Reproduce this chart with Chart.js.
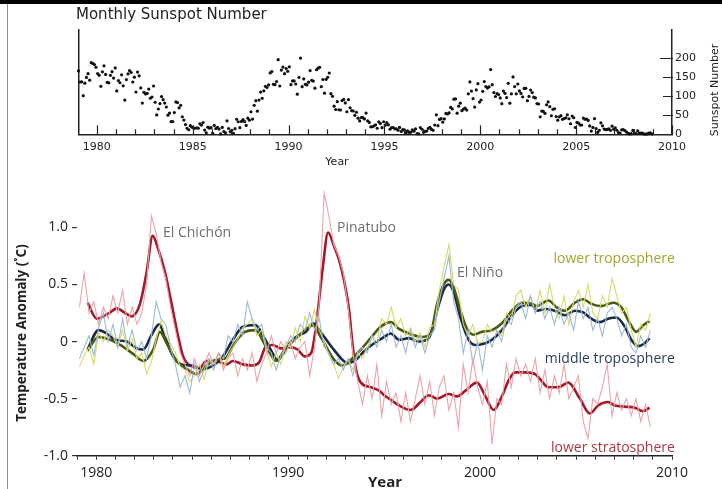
<!DOCTYPE html>
<html>
<head>
<meta charset="utf-8">
<script src="https://cdn.jsdelivr.net/npm/chart.js@4/dist/chart.umd.min.js"></script>
<style>
  body { margin: 0; background: #fff; width: 722px; height: 489px; position: relative; overflow: hidden; }
  #topbar { position: absolute; left: 0; top: 0; width: 722px; height: 4px; background: #000; }
  #leftline { position: absolute; left: 7px; top: 4px; width: 1px; height: 485px; background: #8c8c8c; }
  #spots { position: absolute; left: 0; top: 0; }
  #temps { position: absolute; left: 0; top: 175px; }
</style>
</head>
<body>
<canvas id="spots" width="722" height="175"></canvas>
<canvas id="temps" width="722" height="314"></canvas>
<div id="topbar"></div>
<div id="leftline"></div>
<script>
// monthly sunspot number, Jan 1979 .. Dec 2008
var spotStart = 1979
var sunspots = [
  166.6,137.5,138.0,101.5,134.4,149.5,159.4,142.2,188.4,186.2,183.3,176.3,
  159.6,155.0,126.2,164.1,179.9,157.3,136.3,135.4,155.0,164.7,147.9,174.4,
  114.0,141.3,135.5,156.4,127.5,90.0,143.8,158.7,167.3,162.4,137.5,150.1,
  111.2,163.6,153.8,122.0,82.2,110.4,106.1,107.6,118.8,94.7,98.1,127.0,
  84.3,51.0,66.5,80.7,99.2,91.1,82.2,71.8,50.3,55.8,33.3,33.4,
  57.0,85.1,83.5,69.7,76.4,46.1,37.4,25.5,15.7,12.0,22.8,18.7,
  16.5,15.9,17.2,16.2,27.5,24.2,30.7,11.1,3.9,18.6,16.2,17.3,
  2.5,23.2,15.1,18.5,13.7,1.1,18.1,7.4,3.8,35.4,15.2,6.8,
  10.4,2.4,14.7,39.6,33.0,17.4,33.9,38.8,33.3,23.4,42.5,37.1,
  59.0,40.1,76.2,88.3,60.8,89.9,111.1,94.8,114.3,126.0,123.0,129.8,
  161.3,165.0,131.4,130.5,138.5,196.2,126.9,168.9,176.7,159.4,173.0,165.5,
  177.3,130.5,140.3,140.3,132.2,105.4,149.4,200.3,125.2,145.5,131.4,129.7,
  136.9,167.5,141.9,140.0,121.3,169.7,173.7,176.3,125.3,144.1,108.2,144.4,
  150.0,161.1,106.7,99.8,73.8,65.2,85.7,64.5,63.9,88.7,91.8,82.6,
  59.3,91.0,69.8,62.2,61.3,49.8,57.9,42.4,35.2,44.1,43.6,40.5,
  55.7,35.5,31.1,19.7,19.8,22.2,24.8,15.9,32.6,28.1,17.5,33.0,
  24.1,30.5,24.9,13.5,17.3,17.9,14.4,14.6,10.8,18.2,7.3,12.5,
  11.5,4.4,9.2,4.8,5.5,11.8,8.2,14.4,1.6,0.9,17.9,13.3,
  5.7,7.6,8.7,15.5,18.5,12.7,10.4,24.4,51.3,22.8,39.0,41.2,
  31.9,40.3,54.8,53.4,56.3,70.7,66.6,92.2,92.9,55.5,74.0,81.9,
  62.0,66.3,68.8,63.7,106.4,137.7,113.5,93.7,71.5,116.7,133.2,84.6,
  90.1,112.9,138.5,125.5,121.6,124.9,170.1,130.5,109.7,99.4,106.8,104.4,
  95.6,80.6,113.5,107.7,96.6,134.0,81.8,106.4,150.7,125.5,106.5,132.2,
  114.1,107.4,98.4,120.7,120.8,88.3,99.6,116.4,109.6,97.5,95.5,80.8,
  79.7,46.0,61.1,60.0,55.2,77.4,85.0,72.7,48.8,65.6,67.2,46.7,
  37.2,46.0,48.9,39.3,41.5,43.2,51.1,40.9,27.7,48.0,43.5,17.9,
  31.3,29.2,24.5,24.4,42.6,39.6,39.9,36.4,22.1,8.5,18.0,41.2,
  15.3,4.9,10.6,30.2,22.3,13.9,12.2,12.9,14.4,10.5,21.4,13.6,
  16.8,10.7,4.5,3.4,11.7,12.1,9.7,6.0,2.4,0.9,1.7,10.1,
  3.4,2.1,9.3,2.9,3.2,3.4,0.5,0.5,1.1,2.9,4.1,0.8
]
var spotYearLabels = [1980, 1985, 1990, 1995, 2000, 2005, 2010]
var spotTicks = [0, 50, 100, 150, 200]

// quarterly temperature anomalies (thin lines), 1979 Q1 .. 2008 Q4
var thinStart = 1979
var lowerTropo = [
  -0.22,-0.12,-0.05,-0.2,   0.08,0.0,0.1,0.05,   -0.05,0.1,-0.08,0.02,   -0.15,-0.1,-0.28,-0.18,
  0.02,0.18,0.05,-0.02,   -0.1,-0.22,-0.25,-0.35,   -0.3,-0.2,-0.33,-0.15,   -0.2,-0.1,-0.22,-0.12,
  -0.05,0.02,0.12,0.15,   0.2,0.05,0.1,-0.08,   -0.22,-0.1,-0.2,0.0,   -0.05,0.12,0.0,0.22,
  0.12,0.28,0.1,0.0,   -0.12,-0.2,-0.32,-0.22,   -0.15,-0.25,-0.1,-0.15,   -0.05,0.05,0.0,0.2,
  0.15,0.3,0.12,0.2,   0.05,0.12,0.0,0.08,   -0.05,0.12,0.15,0.45,   0.65,0.85,0.5,0.45,
  0.15,0.05,0.15,-0.02,   0.0,0.15,0.08,0.1,   0.05,0.25,0.2,0.4,   0.45,0.3,0.4,0.25,
  0.45,0.25,0.5,0.3,   0.2,0.4,0.15,0.35,   0.45,0.3,0.5,0.25,   0.2,0.4,0.3,0.55,
  0.4,0.25,0.3,0.1,   -0.05,0.15,0.1,0.25
]
var midTropo = [
  -0.15,-0.05,0.05,-0.12,   0.12,0.25,0.0,0.15,   -0.05,0.2,-0.05,0.1,   -0.08,0.0,-0.15,0.05,
  0.35,0.2,0.15,-0.05,   -0.2,-0.4,-0.3,-0.45,   -0.2,-0.35,-0.25,-0.15,   -0.25,-0.1,-0.15,0.05,
  0.0,0.15,0.05,0.35,   0.2,0.1,0.15,-0.05,   -0.1,-0.25,-0.12,-0.05,   0.05,0.0,0.15,0.1,
  0.25,0.1,0.2,-0.05,   -0.1,-0.2,-0.15,-0.25,   -0.15,-0.3,-0.1,-0.05,   -0.1,0.05,-0.05,0.1,
  0.0,0.15,-0.05,0.05,   -0.1,0.1,-0.05,0.05,   -0.1,0.05,0.1,0.35,   0.55,0.75,0.35,0.2,
  -0.1,0.1,-0.2,0.0,   -0.25,0.05,-0.05,0.1,   0.0,0.2,0.15,0.3,   0.35,0.2,0.4,0.25,
  0.35,0.2,0.3,0.15,   0.3,0.15,0.25,0.1,   0.35,0.2,0.3,0.1,   0.2,0.05,0.25,0.3,
  0.2,0.05,0.15,-0.05,   -0.1,0.05,-0.05,0.1
]
var lowerStrato = [
  0.3,0.6,0.25,0.35,   0.15,0.3,0.2,0.4,   0.25,0.45,0.15,0.3,   0.15,0.25,0.5,1.1,
  0.95,0.7,0.55,0.3,   0.1,-0.1,-0.2,-0.3,   -0.15,-0.3,-0.2,-0.1,   -0.2,-0.1,-0.25,-0.15,
  -0.1,-0.3,-0.15,-0.25,   -0.1,-0.35,-0.2,-0.1,   0.05,-0.1,0.0,-0.1,   0.0,-0.15,-0.05,0.0,
  -0.3,-0.05,0.35,1.3,   1.1,0.85,0.75,0.6,   0.3,-0.1,-0.35,-0.55,   -0.3,-0.5,-0.2,-0.65,
  -0.35,-0.55,-0.45,-0.7,   -0.45,-0.7,-0.5,-0.3,   -0.55,-0.35,-0.65,-0.4,   -0.3,-0.6,-0.45,-0.75,
  -0.2,-0.45,-0.15,-0.4,   -0.55,-0.35,-0.9,-0.5,   -0.55,-0.2,-0.4,-0.15,   -0.3,-0.2,-0.35,-0.15,
  -0.45,-0.25,-0.5,-0.3,   -0.45,-0.2,-0.5,-0.4,   -0.3,-0.7,-0.85,-0.5,   -0.55,-0.4,-0.2,-0.65,
  -0.45,-0.6,-0.5,-0.65,   -0.5,-0.7,-0.55,-0.75
]

// smoothed curves (thick lines)
var ltSmoothYears = [1979.55,1980.12,1980.73,1981.25,1981.94,1982.45,1982.97,1983.32,1983.67,1984.19,1984.71,1985.23,1985.74,1986.26,1986.7,1987.2,1987.7,1988.3,1988.8,1989.4,1990.0,1990.6,1991.3,1991.7,1992.4,1992.84,1993.27,1993.79,1994.3,1994.82,1995.35,1995.78,1996.47,1996.99,1997.42,1997.76,1998.11,1998.37,1998.63,1998.98,1999.32,1999.66,2000.1,2000.62,2001.14,2001.66,2002.18,2002.7,2002.95,2003.56,2003.99,2004.42,2004.94,2005.37,2005.8,2006.32,2006.93,2007.36,2007.8,2008.14,2008.49,2008.83]
var ltSmooth = [-0.08,0.04,0.015,-0.03,-0.11,-0.17,-0.07,0.085,-0.015,-0.17,-0.24,-0.285,-0.21,-0.16,-0.15,-0.02,0.08,0.1,-0.03,-0.17,-0.04,0.06,0.14,0.04,-0.16,-0.21,-0.16,-0.07,0.03,0.13,0.17,0.11,0.06,0.04,0.07,0.33,0.5,0.54,0.47,0.27,0.11,0.06,0.085,0.1,0.16,0.27,0.34,0.33,0.31,0.36,0.3,0.27,0.34,0.37,0.33,0.31,0.34,0.3,0.16,0.085,0.14,0.18]
var mtSmoothYears = [1979.55,1980.12,1980.55,1980.99,1981.59,1982.11,1982.45,1982.89,1983.28,1983.58,1984.01,1984.44,1984.96,1985.57,1986.09,1986.6,1987.12,1987.64,1988.3,1988.7,1989.12,1989.42,1989.9,1990.41,1990.93,1991.3,1991.75,1992.28,1992.8,1993.09,1993.53,1993.96,1994.48,1994.91,1995.35,1995.78,1996.3,1996.82,1997.33,1997.76,1998.11,1998.37,1998.63,1998.98,1999.41,1999.76,2000.28,2000.62,2001.14,2001.66,2002.18,2002.7,2002.95,2003.47,2003.9,2004.42,2004.94,2005.37,2005.8,2006.24,2006.67,2007.1,2007.54,2007.88,2008.23,2008.58,2008.83]
var mtSmooth = [-0.07,0.1,0.07,0.015,0,-0.06,-0.07,0.06,0.15,0.04,-0.13,-0.2,-0.21,-0.24,-0.21,-0.13,0.015,0.13,0.145,0.05,-0.08,-0.16,-0.05,0.04,0.085,0.16,0.07,-0.05,-0.155,-0.19,-0.16,-0.085,-0.015,0.03,0.07,0.015,0.03,0,0.03,0.27,0.455,0.5,0.43,0.21,0.015,-0.03,-0.015,0.015,0.1,0.23,0.31,0.32,0.27,0.285,0.27,0.23,0.27,0.255,0.2,0.17,0.2,0.21,0.13,0.015,-0.04,-0.015,0.03]
var lsSmoothYears = [1979.55,1980.03,1980.73,1981.07,1981.59,1981.85,1982.28,1982.63,1982.94,1983.23,1983.58,1983.93,1984.27,1984.53,1984.88,1985.4,1985.74,1986.26,1986.78,1987.12,1987.64,1988.16,1988.5,1988.85,1989.19,1989.63,1990.07,1990.5,1990.85,1991.2,1991.45,1991.8,1992.08,1992.4,1992.66,1992.92,1993.18,1993.35,1993.53,1993.79,1994.3,1994.74,1995.0,1995.26,1995.78,1996.38,1996.9,1997.33,1997.76,1998.37,1998.8,1999.24,1999.84,2000.28,2000.71,2001.14,2001.49,2001.83,2002.35,2002.87,2003.13,2003.56,2004.08,2004.6,2005.2,2005.72,2006.15,2006.67,2007.02,2007.54,2008.06,2008.49,2008.83]
var lsSmooth = [0.34,0.2,0.256,0.29,0.24,0.22,0.33,0.61,0.925,0.81,0.61,0.33,0.045,-0.13,-0.21,-0.23,-0.17,-0.17,-0.2,-0.17,-0.2,-0.21,-0.18,-0.04,-0.03,-0.06,-0.05,-0.07,-0.13,-0.1,0.13,0.64,0.955,0.83,0.71,0.53,0.27,-0.015,-0.24,-0.36,-0.4,-0.43,-0.47,-0.5,-0.56,-0.6,-0.53,-0.47,-0.5,-0.46,-0.48,-0.43,-0.36,-0.48,-0.6,-0.48,-0.34,-0.27,-0.27,-0.285,-0.33,-0.4,-0.4,-0.36,-0.5,-0.63,-0.56,-0.53,-0.56,-0.57,-0.58,-0.61,-0.58]

var tempTicks = [-1, -0.5, 0, 0.5, 1]
var tempTickLabels = ['-1.0', '-0.5', '0', '0.5', '1.0']
var decadeLabels = [1980, 1990, 2000, 2010]

var notes = [
  { text: 'El Chichón', x: 1983.48, y: 0.95, color: '#6e6e6e', align: 'left' },
  { text: 'Pinatubo', x: 1992.55, y: 0.99, color: '#6e6e6e', align: 'left' },
  { text: 'El Niño', x: 1998.8, y: 0.6, color: '#6e6e6e', align: 'left' },
  { text: 'lower troposphere', x: 2010.15, y: 0.72, color: '#a3a32c', align: 'right' },
  { text: 'middle troposphere', x: 2010.15, y: -0.15, color: '#2b3c5c', align: 'right' },
  { text: 'lower stratosphere', x: 2010.15, y: -0.934, color: '#a83848', align: 'right' }
]

function quarterly(values) {
  return values.map(function(v, i) { return { x: thinStart + i * 0.25 + 0.125, y: v } })
}
function pairs(xs, ys) {
  return xs.map(function(x, i) { return { x: x, y: ys[i] } })
}

var spotPoints = sunspots.map(function(v, i) { return { x: spotStart + (i + 0.5) / 12, y: v } })

var spotDecor = {
  id: 'spotDecor',
  afterDraw: function(chart) {
    var ctx = chart.ctx, area = chart.chartArea
    var xs = chart.scales.x, ys = chart.scales.y
    ctx.save()
    ctx.strokeStyle = '#222'
    ctx.lineWidth = 1.2
    ctx.beginPath()
    for (var yr = 1980; yr <= 2010; yr++) {
      var px = Math.round(xs.getPixelForValue(yr)) + 0.5
      var len = yr % 5 === 0 ? 9 : 5
      ctx.moveTo(px, area.bottom)
      ctx.lineTo(px, area.bottom - len)
    }
    spotTicks.forEach(function(v) {
      var py = Math.round(ys.getPixelForValue(v)) + 0.5
      ctx.moveTo(area.right - (v === 200 ? 12 : 9), py)
      ctx.lineTo(area.right + 1, py)
    })
    ctx.stroke()
    ctx.fillStyle = '#222'
    ctx.font = '15px "DejaVu Sans"'
    ctx.textAlign = 'left'
    ctx.textBaseline = 'middle'
    ctx.fillText('Monthly Sunspot Number', 76, 15)
    ctx.font = '11px "DejaVu Sans"'
    ctx.textAlign = 'center'
    ctx.fillText('Year', 337, 162)
    ctx.translate(715, 90)
    ctx.rotate(-Math.PI / 2)
    ctx.fillText('Sunspot Number', 0, 0)
    ctx.restore()
  }
}

new Chart(document.getElementById('spots'), {
  type: 'scatter',
  data: {
    datasets: [{
      data: spotPoints,
      yAxisID: 'y',
      pointRadius: 1.6,
      pointBackgroundColor: '#111',
      pointBorderWidth: 0,
      clip: false
    }]
  },
  options: {
    responsive: false,
    animation: false,
    devicePixelRatio: 1,
    layout: { padding: { top: 29.3, left: 0, right: 0, bottom: 0 } },
    plugins: { legend: { display: false }, tooltip: { enabled: false } },
    scales: {
      x: {
        type: 'linear', position: 'bottom', min: 1979.07, max: 2010,
        afterBuildTicks: function(s) { s.ticks = spotYearLabels.map(function(v) { return { value: v } }) },
        afterFit: function(s) { s.height = 40.7 },
        grid: { display: false, drawTicks: false },
        border: { display: true, color: '#222', width: 1.5 },
        ticks: {
          autoSkip: false, maxRotation: 0, padding: 6, color: '#222',
          font: { family: 'DejaVu Sans', size: 11 },
          callback: function(v) { return String(v) }
        }
      },
      y: {
        type: 'linear', position: 'right', min: 0, max: 276,
        afterBuildTicks: function(s) { s.ticks = spotTicks.map(function(v) { return { value: v } }) },
        afterFit: function(s) { s.width = 50 },
        grid: { display: false, drawTicks: false },
        border: { display: true, color: '#222', width: 1.5 },
        ticks: { padding: 3, color: '#222', font: { family: 'DejaVu Sans', size: 11 } }
      },
      yl: {
        type: 'linear', position: 'left', min: 0, max: 276,
        afterFit: function(s) { s.width = 79 },
        grid: { display: false, drawTicks: false },
        border: { display: true, color: '#222', width: 1.5 },
        ticks: { display: false }
      }
    }
  },
  plugins: [spotDecor]
})

var tempDecor = {
  id: 'tempDecor',
  afterDraw: function(chart) {
    var ctx = chart.ctx
    var xs = chart.scales.x, ys = chart.scales.y
    ctx.save()
    ctx.textBaseline = 'middle'
    ctx.font = '14px "Open Sans"'
    notes.forEach(function(n) {
      ctx.fillStyle = n.color
      ctx.textAlign = n.align
      ctx.fillText(n.text, xs.getPixelForValue(n.x), ys.getPixelForValue(n.y))
    })
    ctx.fillStyle = '#222'
    ctx.font = 'bold 15px "Open Sans"'
    ctx.textAlign = 'center'
    ctx.fillText('Year', 385, 308)
    ctx.font = 'bold 13.5px "Open Sans"'
    ctx.translate(22, 158)
    ctx.rotate(-Math.PI / 2)
    ctx.fillText('Temperature Anomaly (˚C)', 0, 0)
    ctx.restore()
  }
}

function thin(values, color) {
  return { data: quarterly(values), borderColor: color, borderWidth: 1.1, pointRadius: 0, tension: 0 }
}
function thick(xs, ys, color) {
  return { data: pairs(xs, ys), borderColor: color, borderWidth: 2.6, pointRadius: 0, cubicInterpolationMode: 'monotone' }
}

new Chart(document.getElementById('temps'), {
  type: 'line',
  data: {
    datasets: [
      thin(lowerStrato, '#eba3ab'),
      thin(midTropo, '#9dbad5'),
      thin(lowerTropo, '#d6dc6c'),
      thick(ltSmoothYears, ltSmooth, '#4a5913'),
      thick(mtSmoothYears, mtSmooth, '#1b2846'),
      thick(lsSmoothYears, lsSmooth, '#a3192a')
    ]
  },
  options: {
    responsive: false,
    animation: false,
    devicePixelRatio: 1,
    layout: { padding: { top: 5.3, left: 0, right: 50, bottom: 0 } },
    plugins: { legend: { display: false }, tooltip: { enabled: false } },
    scales: {
      x: {
        type: 'linear', min: 1979, max: 2010,
        afterBuildTicks: function(s) {
          var t = []
          for (var yr = 1979; yr <= 2010; yr++) t.push({ value: yr })
          s.ticks = t
        },
        afterFit: function(s) { s.height = 33.3 },
        grid: { display: true, drawOnChartArea: false, drawTicks: true, tickLength: 4, color: '#333', lineWidth: 1 },
        border: { display: true, color: '#222', width: 1.5 },
        ticks: {
          autoSkip: false, maxRotation: 0, padding: 5, color: '#222',
          font: { family: 'Open Sans', size: 14 },
          callback: function(v) { return decadeLabels.indexOf(v) >= 0 ? String(v) : '' }
        }
      },
      y: {
        type: 'linear', min: -1, max: 1.35,
        afterBuildTicks: function(s) { s.ticks = tempTicks.map(function(v) { return { value: v } }) },
        afterFit: function(s) { s.width = 77 },
        grid: { display: true, drawOnChartArea: false, drawTicks: true, tickLength: 5, color: '#333', lineWidth: 1.2 },
        border: { display: false },
        ticks: {
          padding: 4, color: '#222',
          font: { family: 'Open Sans', size: 14 },
          callback: function(v) { var i = tempTicks.indexOf(v); return i >= 0 ? tempTickLabels[i] : '' }
        }
      }
    }
  },
  plugins: [tempDecor]
})
</script>
</body>
</html>
